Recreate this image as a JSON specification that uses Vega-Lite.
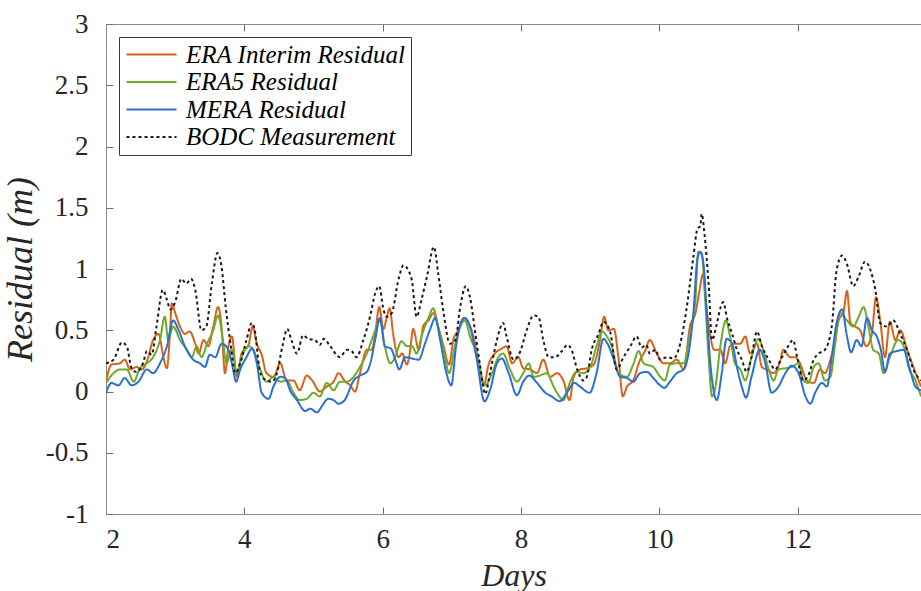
{
  "$schema": "https://vega.github.io/schema/vega-lite/v6.json",
  "autosize": {"type": "none"},
  "padding": {"left": 106, "top": 24, "right": 0, "bottom": 77},
  "width": 815,
  "height": 490,
  "background": "white",
  "config": {
    "view": {"stroke": null},
    "font": "Liberation Serif"
  },
  "data": {"values": [
    {"series":"A","day":2.00,"res":0.08},{"series":"A","day":2.08,"res":0.22},{"series":"A","day":2.20,"res":0.23},{"series":"A","day":2.27,"res":0.26},{"series":"A","day":2.35,"res":0.18},{"series":"A","day":2.44,"res":0.20},{"series":"A","day":2.52,"res":0.18},{"series":"A","day":2.61,"res":0.28},{"series":"A","day":2.68,"res":0.42},{"series":"A","day":2.76,"res":0.47},{"series":"A","day":2.83,"res":0.28},{"series":"A","day":2.88,"res":0.19},{"series":"A","day":2.93,"res":0.53},{"series":"A","day":2.95,"res":0.72},{"series":"A","day":3.00,"res":0.64},{"series":"A","day":3.07,"res":0.53},{"series":"A","day":3.14,"res":0.47},{"series":"A","day":3.21,"res":0.49},{"series":"A","day":3.29,"res":0.39},{"series":"A","day":3.34,"res":0.31},{"series":"A","day":3.41,"res":0.42},{"series":"A","day":3.48,"res":0.37},{"series":"A","day":3.55,"res":0.53},{"series":"A","day":3.62,"res":0.69},{"series":"A","day":3.67,"res":0.53},{"series":"A","day":3.72,"res":0.15},{"series":"A","day":3.77,"res":0.37},{"series":"A","day":3.82,"res":0.45},{"series":"A","day":3.89,"res":0.12},{"series":"A","day":3.96,"res":0.31},{"series":"A","day":4.06,"res":0.38},{"series":"A","day":4.12,"res":0.53},{"series":"A","day":4.18,"res":0.39},{"series":"A","day":4.25,"res":0.30},{"series":"A","day":4.32,"res":0.15},{"series":"A","day":4.42,"res":0.12},{"series":"A","day":4.52,"res":0.23},{"series":"A","day":4.61,"res":0.09},{"series":"A","day":4.71,"res":0.09},{"series":"A","day":4.80,"res":0.01},{"series":"A","day":4.90,"res":0.13},{"series":"A","day":4.98,"res":0.09},{"series":"A","day":5.09,"res":0.00},{"series":"A","day":5.19,"res":0.04},{"series":"A","day":5.29,"res":0.08},{"series":"A","day":5.36,"res":0.15},{"series":"A","day":5.46,"res":0.08},{"series":"A","day":5.53,"res":0.05},{"series":"A","day":5.60,"res":0.00},{"series":"A","day":5.67,"res":0.15},{"series":"A","day":5.77,"res":0.34},{"series":"A","day":5.84,"res":0.34},{"series":"A","day":5.89,"res":0.47},{"series":"A","day":5.95,"res":0.69},{"series":"A","day":6.01,"res":0.51},{"series":"A","day":6.06,"res":0.61},{"series":"A","day":6.10,"res":0.68},{"series":"A","day":6.15,"res":0.47},{"series":"A","day":6.23,"res":0.28},{"series":"A","day":6.28,"res":0.31},{"series":"A","day":6.35,"res":0.22},{"series":"A","day":6.39,"res":0.31},{"series":"A","day":6.44,"res":0.51},{"series":"A","day":6.52,"res":0.34},{"series":"A","day":6.59,"res":0.54},{"series":"A","day":6.66,"res":0.58},{"series":"A","day":6.73,"res":0.64},{"series":"A","day":6.80,"res":0.53},{"series":"A","day":6.88,"res":0.37},{"series":"A","day":6.96,"res":0.22},{"series":"A","day":7.02,"res":0.42},{"series":"A","day":7.09,"res":0.50},{"series":"A","day":7.17,"res":0.60},{"series":"A","day":7.24,"res":0.56},{"series":"A","day":7.31,"res":0.45},{"series":"A","day":7.38,"res":0.26},{"series":"A","day":7.46,"res":0.05},{"series":"A","day":7.53,"res":0.22},{"series":"A","day":7.62,"res":0.31},{"series":"A","day":7.72,"res":0.35},{"series":"A","day":7.79,"res":0.37},{"series":"A","day":7.87,"res":0.23},{"series":"A","day":7.96,"res":0.28},{"series":"A","day":8.03,"res":0.19},{"series":"A","day":8.13,"res":0.18},{"series":"A","day":8.23,"res":0.15},{"series":"A","day":8.32,"res":0.26},{"series":"A","day":8.42,"res":0.12},{"series":"A","day":8.52,"res":0.15},{"series":"A","day":8.61,"res":0.09},{"series":"A","day":8.70,"res":-0.07},{"series":"A","day":8.76,"res":0.12},{"series":"A","day":8.85,"res":0.18},{"series":"A","day":8.95,"res":0.19},{"series":"A","day":9.05,"res":0.22},{"series":"A","day":9.14,"res":0.42},{"series":"A","day":9.20,"res":0.61},{"series":"A","day":9.26,"res":0.50},{"series":"A","day":9.34,"res":0.51},{"series":"A","day":9.41,"res":0.26},{"series":"A","day":9.47,"res":-0.04},{"series":"A","day":9.53,"res":0.04},{"series":"A","day":9.62,"res":0.09},{"series":"A","day":9.72,"res":0.26},{"series":"A","day":9.79,"res":0.33},{"series":"A","day":9.86,"res":0.42},{"series":"A","day":9.96,"res":0.31},{"series":"A","day":10.06,"res":0.23},{"series":"A","day":10.15,"res":0.23},{"series":"A","day":10.25,"res":0.26},{"series":"A","day":10.35,"res":0.18},{"series":"A","day":10.44,"res":0.53},{"series":"A","day":10.52,"res":0.64},{"series":"A","day":10.58,"res":0.83},{"series":"A","day":10.63,"res":0.96},{"series":"A","day":10.67,"res":0.74},{"series":"A","day":10.73,"res":0.47},{"series":"A","day":10.79,"res":0.34},{"series":"A","day":10.88,"res":0.34},{"series":"A","day":10.95,"res":0.23},{"series":"A","day":11.02,"res":0.37},{"series":"A","day":11.09,"res":0.39},{"series":"A","day":11.17,"res":0.39},{"series":"A","day":11.24,"res":0.45},{"series":"A","day":11.31,"res":0.31},{"series":"A","day":11.41,"res":0.39},{"series":"A","day":11.48,"res":0.20},{"series":"A","day":11.55,"res":0.18},{"series":"A","day":11.65,"res":0.15},{"series":"A","day":11.74,"res":0.24},{"series":"A","day":11.79,"res":0.34},{"series":"A","day":11.89,"res":0.28},{"series":"A","day":11.96,"res":0.28},{"series":"A","day":12.03,"res":0.23},{"series":"A","day":12.13,"res":0.09},{"series":"A","day":12.23,"res":0.07},{"series":"A","day":12.32,"res":0.18},{"series":"A","day":12.39,"res":0.15},{"series":"A","day":12.47,"res":0.26},{"series":"A","day":12.52,"res":0.37},{"series":"A","day":12.59,"res":0.58},{"series":"A","day":12.66,"res":0.65},{"series":"A","day":12.71,"res":0.82},{"series":"A","day":12.76,"res":0.56},{"series":"A","day":12.83,"res":0.53},{"series":"A","day":12.90,"res":0.50},{"series":"A","day":12.99,"res":0.37},{"series":"A","day":13.07,"res":0.47},{"series":"A","day":13.13,"res":0.77},{"series":"A","day":13.19,"res":0.58},{"series":"A","day":13.26,"res":0.28},{"series":"A","day":13.33,"res":0.57},{"series":"A","day":13.41,"res":0.42},{"series":"A","day":13.48,"res":0.50},{"series":"A","day":13.58,"res":0.34},{"series":"A","day":13.67,"res":0.20},{"series":"A","day":13.78,"res":0.04},

    {"series":"B","day":2.00,"res":0.07},{"series":"B","day":2.11,"res":0.15},{"series":"B","day":2.20,"res":0.18},{"series":"B","day":2.30,"res":0.18},{"series":"B","day":2.40,"res":0.08},{"series":"B","day":2.49,"res":0.19},{"series":"B","day":2.59,"res":0.23},{"series":"B","day":2.68,"res":0.28},{"series":"B","day":2.78,"res":0.42},{"series":"B","day":2.85,"res":0.61},{"series":"B","day":2.90,"res":0.42},{"series":"B","day":2.97,"res":0.53},{"series":"B","day":3.07,"res":0.42},{"series":"B","day":3.17,"res":0.34},{"series":"B","day":3.24,"res":0.28},{"series":"B","day":3.31,"res":0.37},{"series":"B","day":3.38,"res":0.28},{"series":"B","day":3.46,"res":0.39},{"series":"B","day":3.55,"res":0.50},{"series":"B","day":3.62,"res":0.62},{"series":"B","day":3.69,"res":0.42},{"series":"B","day":3.74,"res":0.23},{"series":"B","day":3.82,"res":0.34},{"series":"B","day":3.89,"res":0.15},{"series":"B","day":3.96,"res":0.28},{"series":"B","day":4.06,"res":0.37},{"series":"B","day":4.13,"res":0.34},{"series":"B","day":4.23,"res":0.18},{"series":"B","day":4.32,"res":0.08},{"series":"B","day":4.42,"res":0.12},{"series":"B","day":4.52,"res":0.08},{"series":"B","day":4.61,"res":0.09},{"series":"B","day":4.71,"res":-0.01},{"series":"B","day":4.80,"res":-0.07},{"series":"B","day":4.90,"res":-0.06},{"series":"B","day":5.00,"res":-0.01},{"series":"B","day":5.09,"res":-0.04},{"series":"B","day":5.19,"res":0.07},{"series":"B","day":5.29,"res":0.01},{"series":"B","day":5.38,"res":0.08},{"series":"B","day":5.48,"res":0.08},{"series":"B","day":5.58,"res":0.12},{"series":"B","day":5.67,"res":0.20},{"series":"B","day":5.77,"res":0.31},{"series":"B","day":5.86,"res":0.45},{"series":"B","day":5.96,"res":0.58},{"series":"B","day":6.03,"res":0.37},{"series":"B","day":6.11,"res":0.23},{"series":"B","day":6.18,"res":0.28},{"series":"B","day":6.27,"res":0.41},{"series":"B","day":6.35,"res":0.37},{"series":"B","day":6.42,"res":0.37},{"series":"B","day":6.49,"res":0.31},{"series":"B","day":6.56,"res":0.45},{"series":"B","day":6.66,"res":0.60},{"series":"B","day":6.73,"res":0.68},{"series":"B","day":6.80,"res":0.53},{"series":"B","day":6.88,"res":0.34},{"series":"B","day":6.96,"res":0.15},{"series":"B","day":7.05,"res":0.39},{"series":"B","day":7.12,"res":0.53},{"series":"B","day":7.19,"res":0.58},{"series":"B","day":7.26,"res":0.45},{"series":"B","day":7.36,"res":0.31},{"series":"B","day":7.48,"res":0.05},{"series":"B","day":7.58,"res":0.15},{"series":"B","day":7.67,"res":0.28},{"series":"B","day":7.74,"res":0.31},{"series":"B","day":7.84,"res":0.18},{"series":"B","day":7.94,"res":0.08},{"series":"B","day":8.03,"res":0.15},{"series":"B","day":8.11,"res":0.23},{"series":"B","day":8.18,"res":0.12},{"series":"B","day":8.27,"res":0.13},{"series":"B","day":8.37,"res":0.15},{"series":"B","day":8.47,"res":0.04},{"series":"B","day":8.54,"res":-0.03},{"series":"B","day":8.61,"res":-0.07},{"series":"B","day":8.71,"res":0.08},{"series":"B","day":8.80,"res":0.16},{"series":"B","day":8.90,"res":0.15},{"series":"B","day":9.00,"res":0.20},{"series":"B","day":9.09,"res":0.37},{"series":"B","day":9.17,"res":0.49},{"series":"B","day":9.24,"res":0.45},{"series":"B","day":9.31,"res":0.37},{"series":"B","day":9.41,"res":0.15},{"series":"B","day":9.53,"res":0.12},{"series":"B","day":9.62,"res":0.22},{"series":"B","day":9.70,"res":0.33},{"series":"B","day":9.77,"res":0.23},{"series":"B","day":9.91,"res":0.20},{"series":"B","day":10.01,"res":0.12},{"series":"B","day":10.08,"res":0.09},{"series":"B","day":10.15,"res":0.22},{"series":"B","day":10.25,"res":0.23},{"series":"B","day":10.35,"res":0.23},{"series":"B","day":10.44,"res":0.47},{"series":"B","day":10.52,"res":0.75},{"series":"B","day":10.56,"res":1.14},{"series":"B","day":10.61,"res":1.13},{"series":"B","day":10.66,"res":0.75},{"series":"B","day":10.71,"res":0.28},{"series":"B","day":10.76,"res":-0.04},{"series":"B","day":10.80,"res":0.01},{"series":"B","day":10.88,"res":0.37},{"series":"B","day":10.96,"res":0.58},{"series":"B","day":11.02,"res":0.45},{"series":"B","day":11.09,"res":0.23},{"series":"B","day":11.17,"res":0.18},{"series":"B","day":11.24,"res":0.09},{"series":"B","day":11.33,"res":0.28},{"series":"B","day":11.43,"res":0.43},{"series":"B","day":11.50,"res":0.34},{"series":"B","day":11.58,"res":0.18},{"series":"B","day":11.65,"res":0.09},{"series":"B","day":11.72,"res":0.18},{"series":"B","day":11.82,"res":0.19},{"series":"B","day":11.91,"res":0.20},{"series":"B","day":12.01,"res":0.23},{"series":"B","day":12.08,"res":0.09},{"series":"B","day":12.15,"res":0.07},{"series":"B","day":12.23,"res":0.20},{"series":"B","day":12.30,"res":0.23},{"series":"B","day":12.39,"res":0.09},{"series":"B","day":12.47,"res":0.12},{"series":"B","day":12.54,"res":0.39},{"series":"B","day":12.61,"res":0.64},{"series":"B","day":12.71,"res":0.58},{"series":"B","day":12.80,"res":0.53},{"series":"B","day":12.88,"res":0.61},{"series":"B","day":12.95,"res":0.69},{"series":"B","day":13.02,"res":0.53},{"series":"B","day":13.09,"res":0.34},{"series":"B","day":13.17,"res":0.31},{"series":"B","day":13.24,"res":0.15},{"series":"B","day":13.33,"res":0.28},{"series":"B","day":13.45,"res":0.42},{"series":"B","day":13.53,"res":0.37},{"series":"B","day":13.60,"res":0.20},{"series":"B","day":13.70,"res":0.09},{"series":"B","day":13.78,"res":-0.04},

    {"series":"C","day":2.00,"res":-0.01},{"series":"C","day":2.08,"res":0.07},{"series":"C","day":2.18,"res":0.05},{"series":"C","day":2.27,"res":0.11},{"series":"C","day":2.37,"res":0.05},{"series":"C","day":2.47,"res":0.08},{"series":"C","day":2.59,"res":0.18},{"series":"C","day":2.68,"res":0.15},{"series":"C","day":2.78,"res":0.23},{"series":"C","day":2.88,"res":0.37},{"series":"C","day":2.97,"res":0.58},{"series":"C","day":3.05,"res":0.50},{"series":"C","day":3.14,"res":0.37},{"series":"C","day":3.26,"res":0.26},{"series":"C","day":3.36,"res":0.23},{"series":"C","day":3.43,"res":0.20},{"series":"C","day":3.50,"res":0.30},{"series":"C","day":3.58,"res":0.28},{"series":"C","day":3.67,"res":0.39},{"series":"C","day":3.77,"res":0.34},{"series":"C","day":3.83,"res":0.20},{"series":"C","day":3.88,"res":0.08},{"series":"C","day":3.94,"res":0.18},{"series":"C","day":4.03,"res":0.28},{"series":"C","day":4.11,"res":0.35},{"series":"C","day":4.18,"res":0.23},{"series":"C","day":4.25,"res":-0.01},{"series":"C","day":4.35,"res":-0.06},{"series":"C","day":4.42,"res":0.04},{"series":"C","day":4.52,"res":0.12},{"series":"C","day":4.59,"res":0.11},{"series":"C","day":4.66,"res":0.01},{"series":"C","day":4.76,"res":-0.07},{"series":"C","day":4.88,"res":-0.16},{"series":"C","day":4.95,"res":-0.14},{"series":"C","day":5.05,"res":-0.17},{"series":"C","day":5.12,"res":-0.12},{"series":"C","day":5.21,"res":-0.06},{"series":"C","day":5.29,"res":-0.07},{"series":"C","day":5.36,"res":-0.10},{"series":"C","day":5.45,"res":-0.07},{"series":"C","day":5.58,"res":0.09},{"series":"C","day":5.67,"res":0.13},{"series":"C","day":5.77,"res":0.16},{"series":"C","day":5.82,"res":0.23},{"series":"C","day":5.89,"res":0.42},{"series":"C","day":5.96,"res":0.60},{"series":"C","day":6.03,"res":0.37},{"series":"C","day":6.12,"res":0.35},{"series":"C","day":6.18,"res":0.26},{"series":"C","day":6.24,"res":0.18},{"series":"C","day":6.32,"res":0.28},{"series":"C","day":6.42,"res":0.27},{"series":"C","day":6.52,"res":0.26},{"series":"C","day":6.61,"res":0.39},{"series":"C","day":6.68,"res":0.50},{"series":"C","day":6.76,"res":0.60},{"series":"C","day":6.83,"res":0.42},{"series":"C","day":6.92,"res":0.15},{"series":"C","day":6.99,"res":0.05},{"series":"C","day":7.06,"res":0.37},{"series":"C","day":7.13,"res":0.56},{"series":"C","day":7.19,"res":0.60},{"series":"C","day":7.26,"res":0.53},{"series":"C","day":7.36,"res":0.26},{"series":"C","day":7.47,"res":-0.08},{"series":"C","day":7.55,"res":0.01},{"series":"C","day":7.65,"res":0.23},{"series":"C","day":7.72,"res":0.27},{"series":"C","day":7.82,"res":0.15},{"series":"C","day":7.94,"res":-0.03},{"series":"C","day":8.03,"res":0.08},{"series":"C","day":8.12,"res":0.13},{"series":"C","day":8.23,"res":0.07},{"series":"C","day":8.35,"res":-0.01},{"series":"C","day":8.44,"res":-0.04},{"series":"C","day":8.56,"res":-0.08},{"series":"C","day":8.66,"res":-0.01},{"series":"C","day":8.77,"res":0.07},{"series":"C","day":8.85,"res":0.04},{"series":"C","day":8.99,"res":-0.01},{"series":"C","day":9.09,"res":0.15},{"series":"C","day":9.19,"res":0.43},{"series":"C","day":9.25,"res":0.39},{"series":"C","day":9.34,"res":0.26},{"series":"C","day":9.43,"res":0.12},{"series":"C","day":9.53,"res":0.11},{"series":"C","day":9.62,"res":0.08},{"series":"C","day":9.72,"res":0.15},{"series":"C","day":9.82,"res":0.16},{"series":"C","day":9.91,"res":0.11},{"series":"C","day":10.01,"res":0.05},{"series":"C","day":10.07,"res":0.03},{"series":"C","day":10.15,"res":0.08},{"series":"C","day":10.25,"res":0.15},{"series":"C","day":10.35,"res":0.18},{"series":"C","day":10.42,"res":0.31},{"series":"C","day":10.49,"res":0.64},{"series":"C","day":10.55,"res":1.09},{"series":"C","day":10.59,"res":1.14},{"series":"C","day":10.64,"res":1.02},{"series":"C","day":10.68,"res":0.67},{"series":"C","day":10.74,"res":0.20},{"series":"C","day":10.83,"res":-0.07},{"series":"C","day":10.90,"res":0.15},{"series":"C","day":10.97,"res":0.43},{"series":"C","day":11.05,"res":0.39},{"series":"C","day":11.12,"res":0.20},{"series":"C","day":11.19,"res":0.04},{"series":"C","day":11.25,"res":-0.05},{"series":"C","day":11.33,"res":0.12},{"series":"C","day":11.45,"res":0.34},{"series":"C","day":11.53,"res":0.23},{"series":"C","day":11.62,"res":-0.01},{"series":"C","day":11.72,"res":0.04},{"series":"C","day":11.82,"res":0.15},{"series":"C","day":11.91,"res":0.21},{"series":"C","day":12.01,"res":0.15},{"series":"C","day":12.11,"res":-0.04},{"series":"C","day":12.18,"res":-0.10},{"series":"C","day":12.25,"res":-0.01},{"series":"C","day":12.35,"res":0.07},{"series":"C","day":12.42,"res":0.04},{"series":"C","day":12.49,"res":0.28},{"series":"C","day":12.56,"res":0.56},{"series":"C","day":12.64,"res":0.67},{"series":"C","day":12.71,"res":0.45},{"series":"C","day":12.77,"res":0.32},{"series":"C","day":12.85,"res":0.42},{"series":"C","day":12.92,"res":0.37},{"series":"C","day":13.00,"res":0.60},{"series":"C","day":13.07,"res":0.50},{"series":"C","day":13.14,"res":0.45},{"series":"C","day":13.20,"res":0.34},{"series":"C","day":13.26,"res":0.16},{"series":"C","day":13.33,"res":0.31},{"series":"C","day":13.43,"res":0.33},{"series":"C","day":13.53,"res":0.34},{"series":"C","day":13.62,"res":0.18},{"series":"C","day":13.70,"res":0.04},{"series":"C","day":13.78,"res":0.01},

    {"series":"D","day":2.00,"res":0.23},{"series":"D","day":2.11,"res":0.26},{"series":"D","day":2.23,"res":0.40},{"series":"D","day":2.30,"res":0.37},{"series":"D","day":2.37,"res":0.19},{"series":"D","day":2.44,"res":0.16},{"series":"D","day":2.54,"res":0.24},{"series":"D","day":2.59,"res":0.33},{"series":"D","day":2.66,"res":0.30},{"series":"D","day":2.73,"res":0.53},{"series":"D","day":2.82,"res":0.83},{"series":"D","day":2.88,"res":0.75},{"series":"D","day":2.93,"res":0.67},{"series":"D","day":3.00,"res":0.73},{"series":"D","day":3.09,"res":0.92},{"series":"D","day":3.16,"res":0.88},{"series":"D","day":3.23,"res":0.92},{"series":"D","day":3.29,"res":0.83},{"series":"D","day":3.38,"res":0.50},{"series":"D","day":3.45,"res":0.53},{"series":"D","day":3.53,"res":0.88},{"series":"D","day":3.61,"res":1.13},{"series":"D","day":3.67,"res":1.02},{"series":"D","day":3.73,"res":0.69},{"series":"D","day":3.80,"res":0.39},{"series":"D","day":3.87,"res":0.15},{"series":"D","day":3.94,"res":0.23},{"series":"D","day":4.03,"res":0.42},{"series":"D","day":4.11,"res":0.56},{"series":"D","day":4.15,"res":0.50},{"series":"D","day":4.23,"res":0.15},{"series":"D","day":4.32,"res":0.09},{"series":"D","day":4.40,"res":0.08},{"series":"D","day":4.47,"res":0.15},{"series":"D","day":4.55,"res":0.37},{"series":"D","day":4.62,"res":0.51},{"series":"D","day":4.68,"res":0.42},{"series":"D","day":4.76,"res":0.31},{"series":"D","day":4.85,"res":0.46},{"series":"D","day":4.92,"res":0.43},{"series":"D","day":5.02,"res":0.42},{"series":"D","day":5.09,"res":0.38},{"series":"D","day":5.15,"res":0.43},{"series":"D","day":5.24,"res":0.37},{"series":"D","day":5.38,"res":0.28},{"series":"D","day":5.48,"res":0.34},{"series":"D","day":5.55,"res":0.33},{"series":"D","day":5.62,"res":0.28},{"series":"D","day":5.72,"res":0.42},{"series":"D","day":5.82,"res":0.62},{"series":"D","day":5.89,"res":0.80},{"series":"D","day":5.95,"res":0.86},{"series":"D","day":6.01,"res":0.67},{"series":"D","day":6.06,"res":0.61},{"series":"D","day":6.13,"res":0.64},{"series":"D","day":6.23,"res":0.92},{"series":"D","day":6.30,"res":1.03},{"series":"D","day":6.37,"res":0.99},{"series":"D","day":6.42,"res":0.91},{"series":"D","day":6.49,"res":0.61},{"series":"D","day":6.56,"res":0.75},{"series":"D","day":6.64,"res":0.94},{"series":"D","day":6.74,"res":1.18},{"series":"D","day":6.80,"res":0.97},{"series":"D","day":6.88,"res":0.64},{"series":"D","day":6.97,"res":0.39},{"series":"D","day":7.05,"res":0.42},{"series":"D","day":7.12,"res":0.69},{"series":"D","day":7.20,"res":0.86},{"series":"D","day":7.26,"res":0.77},{"series":"D","day":7.34,"res":0.47},{"series":"D","day":7.41,"res":0.20},{"series":"D","day":7.48,"res":-0.02},{"series":"D","day":7.55,"res":0.15},{"series":"D","day":7.65,"res":0.42},{"series":"D","day":7.74,"res":0.56},{"series":"D","day":7.79,"res":0.45},{"series":"D","day":7.89,"res":0.26},{"series":"D","day":7.99,"res":0.33},{"series":"D","day":8.08,"res":0.50},{"series":"D","day":8.18,"res":0.62},{"series":"D","day":8.25,"res":0.61},{"series":"D","day":8.32,"res":0.42},{"series":"D","day":8.40,"res":0.28},{"series":"D","day":8.49,"res":0.28},{"series":"D","day":8.59,"res":0.33},{"series":"D","day":8.67,"res":0.38},{"series":"D","day":8.73,"res":0.34},{"series":"D","day":8.81,"res":0.18},{"series":"D","day":8.90,"res":0.09},{"series":"D","day":8.95,"res":0.12},{"series":"D","day":9.02,"res":0.34},{"series":"D","day":9.12,"res":0.47},{"series":"D","day":9.19,"res":0.57},{"series":"D","day":9.29,"res":0.48},{"series":"D","day":9.38,"res":0.18},{"series":"D","day":9.48,"res":0.28},{"series":"D","day":9.58,"res":0.37},{"series":"D","day":9.67,"res":0.45},{"series":"D","day":9.74,"res":0.36},{"series":"D","day":9.81,"res":0.38},{"series":"D","day":9.86,"res":0.31},{"series":"D","day":9.94,"res":0.34},{"series":"D","day":10.01,"res":0.26},{"series":"D","day":10.11,"res":0.28},{"series":"D","day":10.20,"res":0.27},{"series":"D","day":10.30,"res":0.39},{"series":"D","day":10.39,"res":0.67},{"series":"D","day":10.49,"res":1.10},{"series":"D","day":10.55,"res":1.33},{"series":"D","day":10.59,"res":1.35},{"series":"D","day":10.61,"res":1.45},{"series":"D","day":10.65,"res":1.29},{"series":"D","day":10.71,"res":0.88},{"series":"D","day":10.76,"res":0.42},{"series":"D","day":10.82,"res":0.53},{"series":"D","day":10.88,"res":0.68},{"series":"D","day":10.92,"res":0.73},{"series":"D","day":10.98,"res":0.59},{"series":"D","day":11.05,"res":0.47},{"series":"D","day":11.12,"res":0.34},{"series":"D","day":11.19,"res":0.26},{"series":"D","day":11.26,"res":0.16},{"series":"D","day":11.33,"res":0.28},{"series":"D","day":11.41,"res":0.49},{"series":"D","day":11.48,"res":0.37},{"series":"D","day":11.58,"res":0.26},{"series":"D","day":11.67,"res":0.18},{"series":"D","day":11.77,"res":0.28},{"series":"D","day":11.86,"res":0.37},{"series":"D","day":11.93,"res":0.42},{"series":"D","day":11.99,"res":0.28},{"series":"D","day":12.08,"res":0.09},{"series":"D","day":12.15,"res":0.13},{"series":"D","day":12.23,"res":0.26},{"series":"D","day":12.30,"res":0.31},{"series":"D","day":12.39,"res":0.34},{"series":"D","day":12.49,"res":0.53},{"series":"D","day":12.56,"res":0.99},{"series":"D","day":12.64,"res":1.11},{"series":"D","day":12.71,"res":1.04},{"series":"D","day":12.80,"res":0.86},{"series":"D","day":12.88,"res":0.94},{"series":"D","day":12.97,"res":1.06},{"series":"D","day":13.05,"res":0.99},{"series":"D","day":13.12,"res":0.83},{"series":"D","day":13.19,"res":0.56},{"series":"D","day":13.29,"res":0.53},{"series":"D","day":13.38,"res":0.58},{"series":"D","day":13.48,"res":0.47},{"series":"D","day":13.58,"res":0.34},{"series":"D","day":13.67,"res":0.18},{"series":"D","day":13.78,"res":0.09}
  ]},
  "layer": [
    {
      "mark": {"type": "line", "clip": true, "interpolate": "monotone"},
      "encoding": {
        "x": {
          "field": "day", "type": "quantitative",
          "scale": {"domain": [2, 13.78], "nice": false, "zero": false},
          "axis": {
            "orient": "bottom", "values": [2, 4, 6, 8, 10, 12], "grid": false,
            "tickSize": -7, "tickColor": "#6e6e6e", "domainColor": "#8a8a8a", "domainWidth": 1, "tickWidth": 1,
            "labelFont": "Liberation Serif", "labelFontSize": 27, "labelColor": "#262626", "labelPadding": 19,
            "title": "Days", "titleFont": "Liberation Serif", "titleFontSize": 32, "titleFontStyle": "italic",
            "titleFontWeight": "normal", "titleColor": "#262626", "titlePadding": 8
          }
        },
        "y": {
          "field": "res", "type": "quantitative",
          "scale": {"domain": [-1, 3], "nice": false, "zero": false},
          "axis": {
            "values": [-1, -0.5, 0, 0.5, 1, 1.5, 2, 2.5, 3], "grid": false,
            "labelExpr": "datum.value + ''",
            "tickSize": -7, "tickColor": "#6e6e6e", "domainColor": "#8a8a8a", "domainWidth": 1, "tickWidth": 1,
            "labelFont": "Liberation Serif", "labelFontSize": 27, "labelColor": "#262626", "labelPadding": 25,
            "title": "Residual (m)", "titleFont": "Liberation Serif", "titleFontSize": 36, "titleFontStyle": "italic",
            "titleFontWeight": "normal", "titleColor": "#262626", "titlePadding": 6
          }
        },
        "color": {
          "field": "series", "type": "nominal",
          "scale": {"domain": ["A", "B", "C", "D"], "range": ["#D9621A", "#6CAB2C", "#2B6FD5", "#1a1a1a"]},
          "legend": {
            "orient": "none", "legendX": 13, "legendY": 13, "title": null,
            "labelExpr": "datum.label == 'A' ? 'ERA Interim Residual' : datum.label == 'B' ? 'ERA5 Residual' : datum.label == 'C' ? 'MERA Residual' : 'BODC Measurement'",
            "labelFont": "Liberation Serif", "labelFontSize": 25, "labelFontStyle": "italic", "labelColor": "#000000", "labelLimit": 500,
            "symbolType": "M-1,0H4", "symbolSize": 400, "labelOffset": 37,
            "padding": 5, "rowPadding": 1.5,
            "fillColor": "white", "strokeColor": "#3a3a3a"
          }
        },
        "strokeDash": {
          "field": "series", "type": "nominal",
          "scale": {"domain": ["A", "B", "C", "D"], "range": [[1, 0], [1, 0], [1, 0], [3, 3]]}
        },
        "strokeWidth": {
          "field": "series", "type": "nominal",
          "scale": {"domain": ["A", "B", "C", "D"], "range": [2, 2, 2, 1]}
        }
      }
    },
    {
      "mark": {"type": "line", "opacity": 0},
      "encoding": {
        "x": {
          "field": "day", "type": "quantitative",
          "axis": {
            "orient": "top", "values": [2, 4, 6, 8, 10, 12], "grid": false, "labels": false, "title": null,
            "tickSize": -7, "tickColor": "#6e6e6e", "domainColor": "#8a8a8a", "domainWidth": 1, "tickWidth": 1
          }
        },
        "y": {
          "field": "res", "type": "quantitative",
          "axis": {
            "values": [-1, -0.5, 0, 0.5, 1, 1.5, 2, 2.5, 3], "grid": false,
            "labelExpr": "datum.value + ''",
            "tickSize": -7, "tickColor": "#6e6e6e", "domainColor": "#8a8a8a", "domainWidth": 1, "tickWidth": 1,
            "labelFont": "Liberation Serif", "labelFontSize": 27, "labelColor": "#262626", "labelPadding": 25,
            "title": "Residual (m)", "titleFont": "Liberation Serif", "titleFontSize": 36, "titleFontStyle": "italic",
            "titleFontWeight": "normal", "titleColor": "#262626", "titlePadding": 6
          }
        },
        "detail": {"field": "series", "type": "nominal"}
      }
    }
  ],
  "resolve": {"axis": {"x": "independent"}}
}
